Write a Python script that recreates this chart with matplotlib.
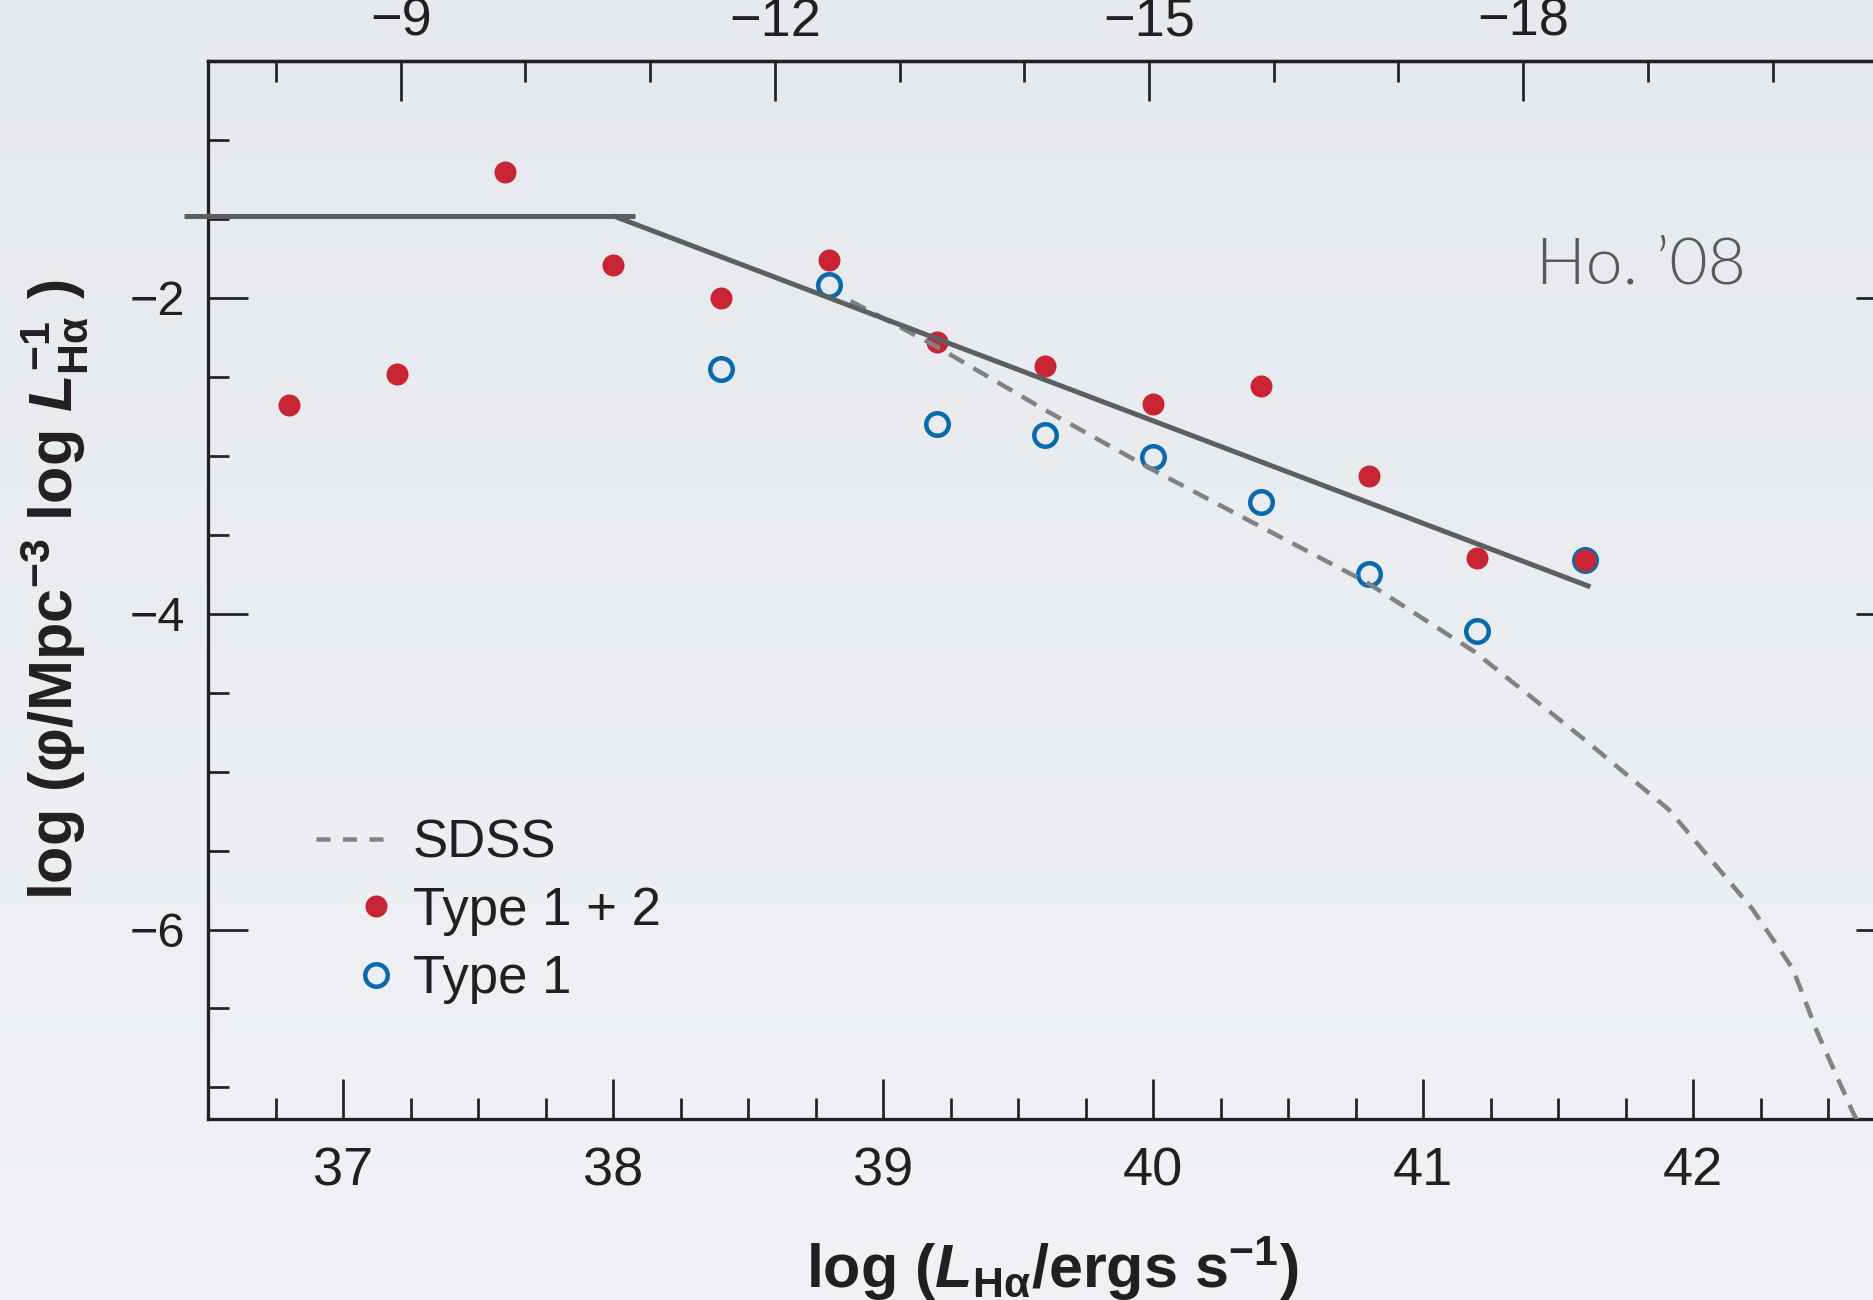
import numpy as np
import matplotlib
matplotlib.use('Agg')
import matplotlib.pyplot as plt
from matplotlib.ticker import MultipleLocator, FixedLocator, FuncFormatter
from matplotlib.colors import LinearSegmentedColormap
from matplotlib.lines import Line2D

# H-alpha luminosity function, all Seyferts (type 1 + 2)
log_lha_all = [36.8, 37.2, 37.6, 38.0, 38.4, 38.8, 39.2, 39.6, 40.0, 40.4, 40.8, 41.2, 41.6]
phi_all = [-2.68, -2.48, -1.20, -1.79, -2.00, -1.76, -2.28, -2.43, -2.67, -2.56, -3.13, -3.65, -3.66]

# type 1 only
log_lha_t1 = [38.4, 38.8, 39.2, 39.6, 40.0, 40.4, 40.8, 41.2, 41.6]
phi_t1 = [-2.45, -1.92, -2.80, -2.87, -3.01, -3.29, -3.75, -4.11, -3.66]

# broken power-law fit
fit_flat_x = [36.41, 38.08]
fit_flat_y = [-1.48, -1.48]
fit_slope_x = [38.0, 41.62]
fit_slope_y = [-1.48, -3.83]

# SDSS luminosity function
sdss_x = [38.88, 39.19, 39.60, 40.00, 40.40, 40.79, 41.19, 41.60, 41.91, 42.22, 42.37, 42.46, 42.59, 42.62]
sdss_y = [-2.02, -2.30, -2.71, -3.09, -3.45, -3.80, -4.24, -4.80, -5.24, -5.87, -6.25, -6.65, -7.15, -7.25]

# absolute magnitude scale along the top
mag_ticks = [-9, -12, -15, -18]
MAG_REF_X = 39.985   # log L where M = -15
MAG_PER_DEX = 2.165

RED = '#c82434'
BLUE = '#0b6aad'
FIT_GREY = '#5b5f60'
SDSS_GREY = '#808285'
INK = '#231f20'

W, H, DPI = 1873, 1300, 100


def px(v):
    """pixels -> points"""
    return v * 72.0 / DPI


def to_mag(x):
    return -15.0 - (np.asarray(x) - MAG_REF_X) * MAG_PER_DEX


def to_logl(m):
    return MAG_REF_X - (np.asarray(m) + 15.0) / MAG_PER_DEX


plt.rcParams['font.family'] = ['Liberation Sans', 'DejaVu Sans']
plt.rcParams['mathtext.fontset'] = 'custom'
plt.rcParams['mathtext.rm'] = 'Liberation Sans:bold'
plt.rcParams['mathtext.bf'] = 'Liberation Sans:bold'
plt.rcParams['mathtext.it'] = 'Liberation Sans:italic:bold'
plt.rcParams['lines.scale_dashes'] = False
plt.rcParams['axes.unicode_minus'] = True

fig = plt.figure(figsize=(W / DPI, H / DPI), dpi=DPI)

# soft vertical gradient behind everything
bg = fig.add_axes([0, 0, 1, 1], zorder=-10)
grad = np.linspace(0, 1, 256).reshape(-1, 1)
bg_cmap = LinearSegmentedColormap.from_list('bg', ['#e6e9ed', '#f0f2f5'])
bg.imshow(grad, aspect='auto', cmap=bg_cmap, extent=[0, 1, 0, 1], origin='upper')
bg.set_axis_off()

ax = fig.add_axes([208 / W, (H - 1119) / H, 1687.5 / W, 1058 / H])
ax.set_facecolor('none')
ax.set_xlim(36.5, 42.75)
ax.set_ylim(-7.2, -0.5)

# data points first, fit lines over them
ax.plot(log_lha_t1, phi_t1, ls='none', marker='o', ms=px(22.5), mfc='none',
        mec=BLUE, mew=px(4.5), zorder=3)
ax.plot(log_lha_all, phi_all, ls='none', marker='o', ms=px(22), color=RED,
        mec='none', zorder=4)
ax.plot(sdss_x, sdss_y, color=SDSS_GREY, lw=px(4.5), dashes=(px(17), px(11)),
        zorder=5)
ax.plot(fit_flat_x, fit_flat_y, color=FIT_GREY, lw=px(5), clip_on=False,
        solid_capstyle='butt', zorder=6)
ax.plot(fit_slope_x, fit_slope_y, color=FIT_GREY, lw=px(5),
        solid_capstyle='butt', zorder=6)

for s in ax.spines.values():
    s.set_linewidth(px(3.3))
    s.set_color(INK)

ax.xaxis.set_major_locator(MultipleLocator(1))
ax.xaxis.set_minor_locator(MultipleLocator(0.25))
ax.yaxis.set_major_locator(MultipleLocator(2))
ax.yaxis.set_minor_locator(MultipleLocator(0.5))
ax.tick_params(which='both', direction='in', color=INK, width=px(2.7),
               top=False, right=True)
ax.tick_params(which='major', length=px(40))
ax.tick_params(which='minor', length=px(21))
ax.tick_params(axis='x', which='major', labelsize=39, pad=px(27), labelcolor=INK)
ax.tick_params(axis='y', which='major', labelsize=35, pad=px(23), labelcolor=INK)

secax = ax.secondary_xaxis('top', functions=(to_mag, to_logl))
secax.xaxis.set_major_locator(FixedLocator(mag_ticks))
secax.xaxis.set_minor_locator(MultipleLocator(1))
secax.xaxis.set_major_formatter(FuncFormatter(lambda v, p: '\u2212%d' % abs(round(v))))
secax.spines['top'].set_linewidth(px(3.3))
secax.spines['top'].set_color(INK)
secax.tick_params(which='both', direction='in', color=INK, width=px(2.7))
secax.tick_params(which='major', length=px(40), labelsize=39, pad=px(14), labelcolor=INK)
secax.tick_params(which='minor', length=px(21))

ax.set_xlabel(r'log ($L_{\mathrm{H\alpha}}$/ergs s$^{-1}$)', fontsize=44,
              fontweight='bold', color=INK, va='center')
ax.xaxis.set_label_coords(0.5, -0.141)
ax.set_ylabel('log (\u03c6/Mpc$^{-3}$ log $L_{\\mathrm{H\\alpha}}^{-1}$ )', fontsize=44,
              fontweight='bold', color=INK, va='center')
ax.yaxis.set_label_coords(-0.0913, 0.5)

ax.text(41.418, -1.907, 'Ho. \u201908', fontsize=47.5, color='#58595b',
        family=['Lato', 'DejaVu Sans'], fontweight=300, ha='left', va='baseline')

# legend: dashed SDSS entry and the two marker entries
fs_pt = 38
fs_px = fs_pt * DPI / 72.0
sdss_handle = Line2D([], [], color=SDSS_GREY, lw=px(4.5), dashes=(px(14), px(12.5)))
leg1 = ax.legend([sdss_handle], ['SDSS'], loc='center left',
                 bbox_to_anchor=(316 / W, (H - 843) / H), bbox_transform=fig.transFigure,
                 frameon=False, fontsize=fs_pt, handlelength=67 / fs_px,
                 handletextpad=30 / fs_px, borderpad=0, borderaxespad=0)
for t in leg1.get_texts():
    t.set_color(INK)
ax.add_artist(leg1)

red_handle = Line2D([], [], ls='none', marker='o', ms=px(22), color=RED, mec='none')
blue_handle = Line2D([], [], ls='none', marker='o', ms=px(22.5), mfc='none',
                     mec=BLUE, mew=px(4.5))
leg2 = ax.legend([red_handle, blue_handle], ['Type 1 + 2', 'Type 1'], loc='center left',
                 bbox_to_anchor=(363 / W, (H - 945) / H), bbox_transform=fig.transFigure,
                 frameon=False, fontsize=fs_pt, handlelength=26 / fs_px,
                 handletextpad=24 / fs_px, labelspacing=0.35, borderpad=0,
                 borderaxespad=0)
for t in leg2.get_texts():
    t.set_color(INK)

fig.savefig('out.png', dpi=DPI, facecolor='#ebedf0')
